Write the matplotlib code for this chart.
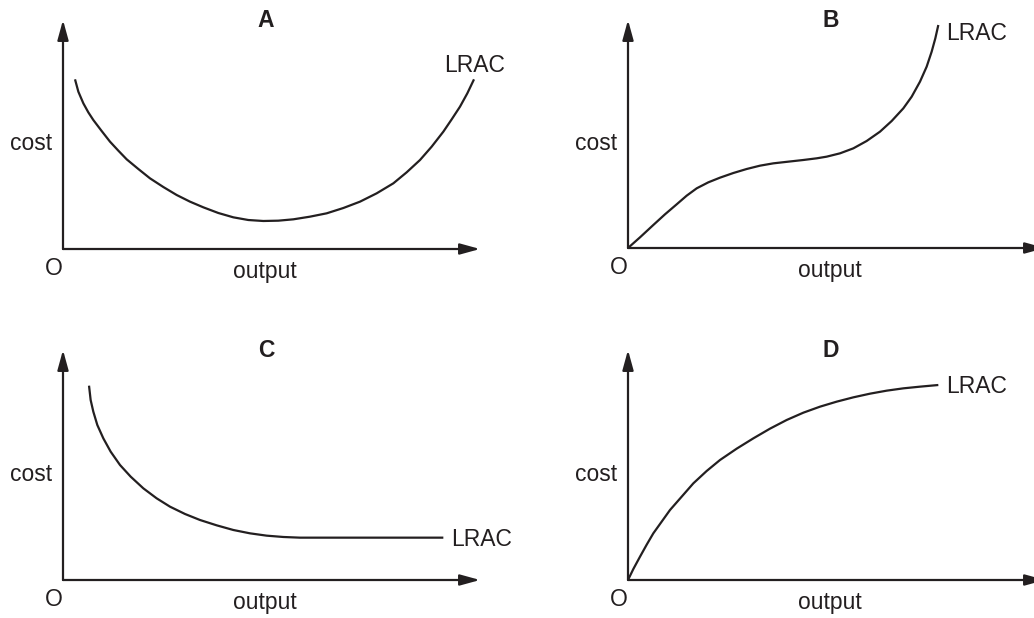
import matplotlib
matplotlib.use("Agg")
import matplotlib.pyplot as plt

plt.rcParams['font.family'] = ['Liberation Sans', 'DejaVu Sans']

INK = '#231f20'

# curves, output 0..100 on x, cost 0..100 on y
a_x = [2.88, 3.68, 4.88, 6.07, 7.27, 9.27, 11.27, 13.27, 15.27, 18.07, 20.86, 24.06,
       27.26, 30.46, 33.65, 37.25, 40.85, 44.44, 48.04, 51.64, 55.24, 59.23, 63.23,
       67.23, 71.22, 75.22, 79.22, 82.41, 85.61, 88.41, 91.21, 93.21, 95.20, 96.96, 98.56]
a_y = [74.09, 68.70, 63.61, 59.68, 56.33, 51.53, 46.87, 42.94, 39.16, 34.93, 30.86, 27.07,
       23.58, 20.67, 18.20, 15.72, 13.83, 12.66, 12.23, 12.37, 12.96, 14.12, 15.58,
       17.90, 20.67, 24.31, 28.68, 33.48, 38.86, 44.69, 51.24, 56.62, 62.15, 67.98, 74.09]

b_x = [0.0, 2.88, 6.07, 8.87, 11.67, 14.07, 16.47, 19.26, 22.06, 25.26, 28.46, 31.65,
       34.85, 38.45, 42.05, 45.24, 47.64, 50.84, 54.04, 57.23, 60.43, 63.23, 66.03,
       68.03, 70.02, 71.62, 72.82, 73.70, 74.42]
b_y = [0.0, 4.68, 10.09, 14.77, 19.15, 22.95, 26.17, 28.80, 30.85, 32.89, 34.65, 36.11,
       37.13, 37.87, 38.60, 39.33, 40.06, 41.52, 43.71, 46.93, 51.02, 55.70, 61.26,
       66.37, 72.95, 79.53, 86.11, 91.96, 97.81]

c_x = [6.24, 6.63, 7.27, 8.23, 9.67, 11.43, 13.67, 16.23, 19.26, 22.46, 25.66, 29.26,
       32.85, 36.85, 40.85, 44.84, 48.84, 52.84, 56.83, 91.21]
c_y = [84.49, 78.26, 73.19, 67.39, 61.59, 55.80, 50.00, 44.93, 39.86, 35.51, 31.88, 28.70,
       26.09, 23.77, 21.74, 20.29, 19.28, 18.70, 18.41, 18.41]

d_x = [0.0, 1.28, 2.88, 4.48, 6.07, 8.07, 10.07, 12.87, 15.67, 18.86, 22.06, 26.06,
       30.06, 34.05, 38.05, 42.05, 46.04, 50.04, 54.04, 58.03, 62.03, 66.03, 70.02, 74.42]
d_y = [0.0, 4.78, 10.14, 15.36, 20.29, 25.36, 30.43, 36.23, 42.03, 47.39, 52.17, 57.10,
       61.59, 65.80, 69.57, 72.75, 75.36, 77.54, 79.42, 81.01, 82.32, 83.33, 84.06, 84.78]

titles = ['A', 'B', 'C', 'D']
curves = [(a_x, a_y), (b_x, b_y), (c_x, c_y), (d_x, d_y)]
# where the LRAC label sits in each panel (left x, baseline y)
lrac_pos = [(91.4, 77.4), (76.4, 91.2), (93.0, 14.8), (76.4, 81.2)]

W, H = 1034, 618
# panel frames in pixels: origin x, origin y, axis length x, axis length y
frames = [(63, 249, 417, 229), (628, 248, 417, 228),
          (63, 580, 417, 230), (628, 580, 417, 230)]

FS = 16.5

fig = plt.figure(figsize=(W / 100, H / 100), dpi=100)


def arrow(ax, x0, y0, x1, y1):
    ax.annotate('', xy=(x1, y1), xytext=(x0, y0), annotation_clip=False,
                arrowprops=dict(arrowstyle='-|>,head_length=1.2,head_width=0.33',
                                mutation_scale=10, lw=1.6, color=INK,
                                shrinkA=0, shrinkB=0))


for (px, py, pw, ph), title, (xs, ys), (lx, ly) in zip(frames, titles, curves, lrac_pos):
    ax = fig.add_axes([px / W, (H - py) / H, pw / W, ph / H])
    ax.set_xlim(0, 100)
    ax.set_ylim(0, 100)
    ax.axis('off')

    arrow(ax, 0, 0, 100, 0)
    arrow(ax, 0, 0, 0, 100)
    ax.plot(xs, ys, color=INK, lw=1.6, clip_on=False, solid_capstyle='butt',
            solid_joinstyle='round')

    ax.text(48.7, 97.1, title, ha='center', va='baseline', fontsize=FS,
            fontweight='bold', color=INK, clip_on=False)
    ax.text(lx, ly, 'LRAC', ha='left', va='baseline', fontsize=FS, color=INK)
    ax.text(-2.6, 43.2, 'cost', ha='right', va='baseline', fontsize=FS, color=INK)
    ax.text(-2.3, -11.4, 'O', ha='center', va='baseline', fontsize=FS, color=INK)
    ax.text(48.3, -12.8, 'output', ha='center', va='baseline', fontsize=FS, color=INK)

fig.savefig('out.png', dpi=100)
